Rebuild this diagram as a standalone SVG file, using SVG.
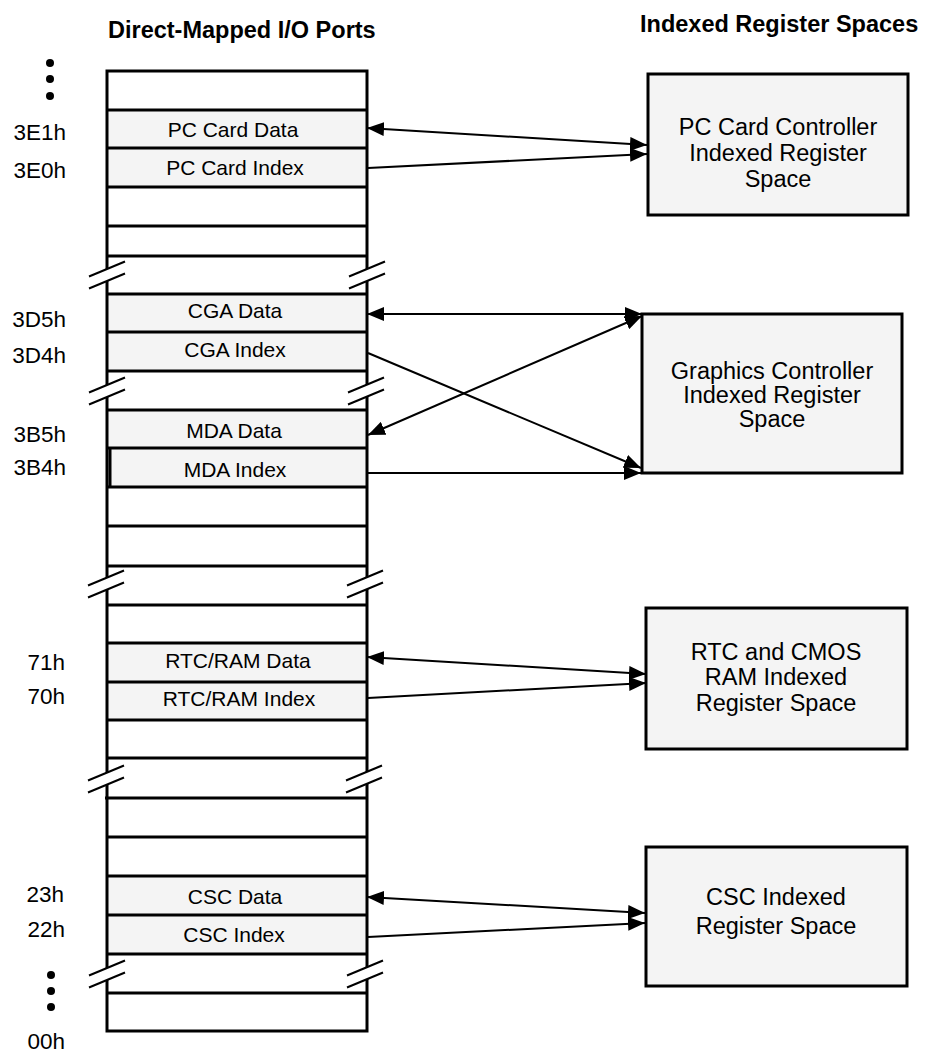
<svg xmlns="http://www.w3.org/2000/svg" xmlns:xlink="http://www.w3.org/1999/xlink" width="925" height="1054" viewBox="0 0 925 1054">
<style>
text{font-family:"Liberation Sans",Arial,sans-serif;fill:#000}
.title{font-size:23.5px;font-weight:bold}
.row{font-size:21px;text-anchor:middle}
.addr{font-size:22.5px;text-anchor:end}
.box{font-size:23.5px;text-anchor:middle}
.gray{fill:#f4f4f4;stroke:none}
.hl{stroke:#000;stroke-width:3}
.nb{fill:#f4f4f4;stroke:#000;stroke-width:3}
.con line{stroke:#000;stroke-width:2;fill:none}
.slash{stroke:#000;stroke-width:2}
</style>
<defs>
<marker id="ah" markerUnits="userSpaceOnUse" viewBox="0 0 17 14" markerWidth="17" markerHeight="14" refX="17" refY="7" orient="auto-start-reverse">
<path d="M0,0 L17,7 L0,14 z" fill="#000"/>
</marker>
<g id="brk">
<polygon points="-18,1.5 18,-13.5 18,-1.5 -18,13.5" fill="#fff"/>
<line class="slash" x1="-18" y1="1.5" x2="18" y2="-13.5"/>
<line class="slash" x1="-18" y1="13.5" x2="18" y2="-1.5"/>
</g>
</defs>
<rect width="925" height="1054" fill="#fff"/>

<text class="title" x="108" y="38">Direct-Mapped I/O Ports</text>
<text class="title" x="640" y="32">Indexed Register Spaces</text>

<g id="dots-top">
<circle cx="50" cy="63" r="4"/><circle cx="50" cy="79" r="4"/><circle cx="50" cy="96" r="4"/>
</g>
<g id="dots-bottom">
<circle cx="51" cy="975" r="4"/><circle cx="51" cy="991" r="4"/><circle cx="51" cy="1007" r="4"/>
</g>

<g id="port-column">
<rect class="gray" x="107" y="110" width="260" height="77"/>
<rect class="gray" x="107" y="294" width="260" height="77"/>
<rect class="gray" x="107" y="410" width="260" height="77"/>
<rect class="gray" x="107" y="643" width="260" height="77"/>
<rect class="gray" x="107" y="876" width="260" height="78"/>
<rect x="107" y="71" width="260" height="960" fill="none" stroke="#000" stroke-width="3"/>
<g class="hl">
<line x1="107" y1="110" x2="367" y2="110"/>
<line x1="107" y1="148" x2="367" y2="148"/>
<line x1="107" y1="187" x2="367" y2="187"/>
<line x1="107" y1="226" x2="367" y2="226"/>
<line x1="107" y1="256" x2="367" y2="256"/>
<line x1="107" y1="294" x2="367" y2="294"/>
<line x1="107" y1="332" x2="367" y2="332"/>
<line x1="107" y1="371" x2="367" y2="371"/>
<line x1="107" y1="410" x2="367" y2="410"/>
<line x1="107" y1="448" x2="367" y2="448"/>
<line x1="107" y1="487" x2="367" y2="487"/>
<line x1="107" y1="526" x2="367" y2="526"/>
<line x1="107" y1="566" x2="367" y2="566"/>
<line x1="107" y1="605" x2="367" y2="605"/>
<line x1="107" y1="643" x2="367" y2="643"/>
<line x1="107" y1="682" x2="367" y2="682"/>
<line x1="107" y1="720" x2="367" y2="720"/>
<line x1="107" y1="758" x2="367" y2="758"/>
<line x1="105" y1="798" x2="367" y2="798"/>
<line x1="107" y1="837" x2="367" y2="837"/>
<line x1="107" y1="876" x2="367" y2="876"/>
<line x1="107" y1="915" x2="367" y2="915"/>
<line x1="107" y1="954" x2="367" y2="954"/>
<line x1="107" y1="993" x2="367" y2="993"/>
<line x1="110" y1="448" x2="110" y2="487"/>
</g>
<use xlink:href="#brk" x="107" y="275"/>
<use xlink:href="#brk" x="367" y="275"/>
<use xlink:href="#brk" x="107" y="391"/>
<use xlink:href="#brk" x="366" y="391"/>
<use xlink:href="#brk" x="106" y="584"/>
<use xlink:href="#brk" x="365" y="584"/>
<use xlink:href="#brk" x="106" y="779"/>
<use xlink:href="#brk" x="364" y="779"/>
<use xlink:href="#brk" x="107" y="974"/>
<use xlink:href="#brk" x="365" y="974"/>
</g>

<g id="port-pc-data"><text class="row" x="233" y="137">PC Card Data</text><text class="addr" x="66" y="140">3E1h</text></g>
<g id="port-pc-index"><text class="row" x="235" y="175">PC Card Index</text><text class="addr" x="66" y="178">3E0h</text></g>
<g id="port-cga-data"><text class="row" x="235" y="318">CGA Data</text><text class="addr" x="66" y="327">3D5h</text></g>
<g id="port-cga-index"><text class="row" x="235" y="357">CGA Index</text><text class="addr" x="66" y="363">3D4h</text></g>
<g id="port-mda-data"><text class="row" x="234" y="438">MDA Data</text><text class="addr" x="66" y="442">3B5h</text></g>
<g id="port-mda-index"><text class="row" x="235" y="477">MDA Index</text><text class="addr" x="66" y="475">3B4h</text></g>
<g id="port-rtc-data"><text class="row" x="238" y="668">RTC/RAM Data</text><text class="addr" x="65" y="670">71h</text></g>
<g id="port-rtc-index"><text class="row" x="239" y="706">RTC/RAM Index</text><text class="addr" x="65" y="704">70h</text></g>
<g id="port-csc-data"><text class="row" x="235" y="904">CSC Data</text><text class="addr" x="64" y="902">23h</text></g>
<g id="port-csc-index"><text class="row" x="234" y="942">CSC Index</text><text class="addr" x="65" y="937">22h</text></g>
<g id="addr-00"><text class="addr" x="65" y="1049">00h</text></g>

<g id="box-pccard">
<rect class="nb" x="648" y="74" width="260" height="141"/>
<text class="box" x="778" y="135">PC Card Controller</text>
<text class="box" x="778" y="161">Indexed Register</text>
<text class="box" x="778" y="187">Space</text>
</g>
<g id="box-graphics">
<rect class="nb" x="642" y="314" width="260" height="159"/>
<text class="box" x="772" y="379">Graphics Controller</text>
<text class="box" x="772" y="403">Indexed Register</text>
<text class="box" x="772" y="427">Space</text>
</g>
<g id="box-rtc">
<rect class="nb" x="646" y="608" width="261" height="141"/>
<text class="box" x="776" y="660">RTC and CMOS</text>
<text class="box" x="776" y="685">RAM Indexed</text>
<text class="box" x="776" y="711">Register Space</text>
</g>
<g id="box-csc">
<rect class="nb" x="646" y="847" width="261" height="139"/>
<text class="box" x="776" y="905">CSC Indexed</text>
<text class="box" x="776" y="934">Register Space</text>
</g>

<g id="connectors" class="con">
<line x1="367" y1="128" x2="647" y2="145" marker-start="url(#ah)" marker-end="url(#ah)"/>
<line x1="368" y1="168" x2="647" y2="154" marker-end="url(#ah)"/>
<line x1="367" y1="314" x2="642" y2="314" marker-start="url(#ah)" marker-end="url(#ah)"/>
<line x1="368" y1="435" x2="642" y2="316" marker-start="url(#ah)" marker-end="url(#ah)"/>
<line x1="368" y1="353" x2="641" y2="468" marker-end="url(#ah)"/>
<line x1="368" y1="473" x2="641" y2="473" marker-end="url(#ah)"/>
<line x1="367" y1="657" x2="646" y2="674" marker-start="url(#ah)" marker-end="url(#ah)"/>
<line x1="368" y1="698" x2="646" y2="683" marker-end="url(#ah)"/>
<line x1="367" y1="897" x2="645" y2="913" marker-start="url(#ah)" marker-end="url(#ah)"/>
<line x1="368" y1="937" x2="645" y2="923" marker-end="url(#ah)"/>
</g>
</svg>
